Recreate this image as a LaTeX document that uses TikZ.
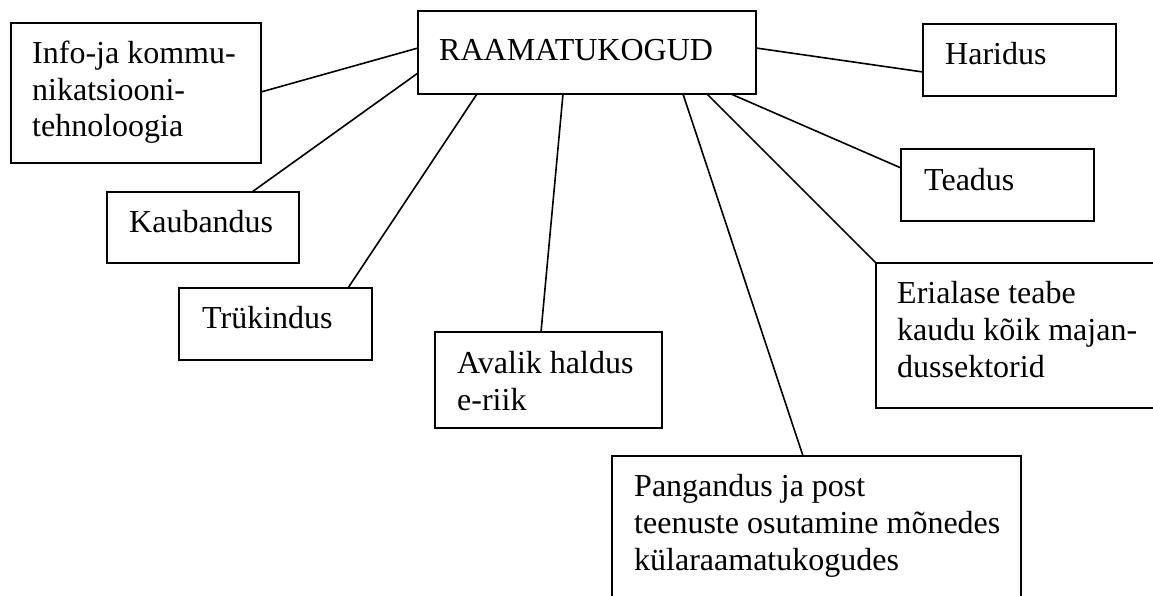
\documentclass[tikz,border=0pt]{standalone}
\usepackage{fontspec}
\setmainfont{Liberation Serif}
\begin{document}
\begin{tikzpicture}[x=1pt,y=-1pt,
  box/.style={draw,line width=1.8pt,rectangle,inner sep=0pt,outer sep=0pt,anchor=north west},
  txt/.style={inner sep=0pt,anchor=base west,align=left,font=\fontsize{32}{36.7}\selectfont},
  link/.style={line width=1.6pt}]
\clip (0,0) rectangle (1153,596);
% boxes
\node[box,minimum width=338pt,minimum height=83pt] (raam) at (418,11) {};
\node[box,minimum width=250pt,minimum height=140pt] (info) at (11,23) {};
\node[box,minimum width=193pt,minimum height=72pt] (harid) at (923,24) {};
\node[box,minimum width=193pt,minimum height=72pt] (tead) at (901,149) {};
\node[box,minimum width=192pt,minimum height=71pt] (kaub) at (107,192) {};
\node[box,minimum width=193pt,minimum height=72pt] (truk) at (179,288) {};
\node[box,minimum width=227pt,minimum height=96pt] (aval) at (435,332) {};
\node[box,minimum width=320pt,minimum height=145pt] (eria) at (876,263) {};
\node[box,minimum width=409pt,minimum height=200pt] (pang) at (612,456) {};
% texts (anchor = baseline of the last line)
\node[txt] (traam) at (439,61) {RAAMATUKOGUD};
\node[txt] (tinfo) at (32,137) {Info-ja kommu-\\nikatsiooni-\\tehnoloogia};
\node[txt] (tharid) at (945,65) {Haridus};
\node[txt] (ttead) at (924,190) {Teadus};
\node[txt] (tkaub) at (129,233) {Kaubandus};
\node[txt] (ttruk) at (202,328) {Trükindus};
\node[txt] (taval) at (457,410) {Avalik haldus\\e-riik};
\node[txt] (teria) at (897,377) {Erialase teabe\\kaudu kõik majan-\\dussektorid};
\node[txt] (tpang) at (634,570) {Pangandus ja post\\teenuste osutamine mõnedes\\külaraamatukogudes};
% connectors
\draw[link] ([yshift=-69pt]info.north east) -- ([yshift=-37pt]raam.north west);
\draw[link] ([xshift=145pt]kaub.north west) -- ([yshift=-62pt]raam.north west);
\draw[link] ([xshift=169pt]truk.north west) -- ([xshift=59pt]raam.south west);
\draw[link] ([xshift=106pt]aval.north west) -- ([xshift=145pt]raam.south west);
\draw[link] ([xshift=191pt]pang.north west) -- ([xshift=265pt]raam.south west);
\draw[link] (eria.north west) -- ([xshift=289pt]raam.south west);
\draw[link] ([yshift=-19pt]tead.north west) -- ([xshift=313pt]raam.south west);
\draw[link] ([yshift=-48pt]harid.north west) -- ([yshift=-37pt]raam.north east);
\end{tikzpicture}
\end{document}
